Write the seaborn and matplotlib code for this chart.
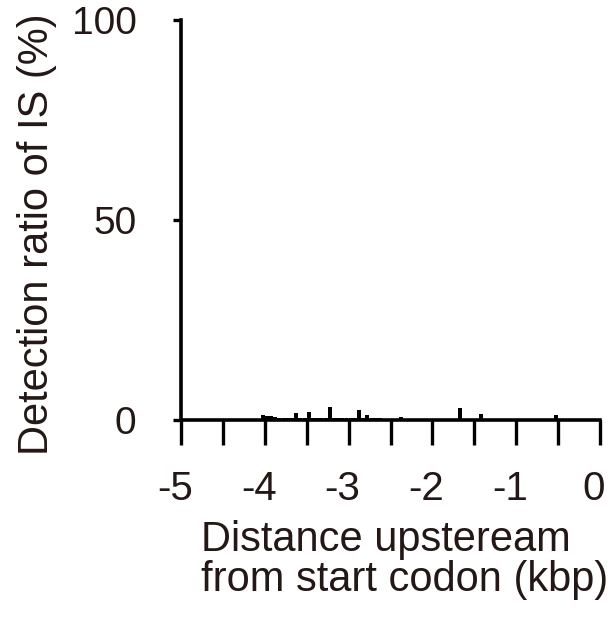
import numpy as np
import pandas as pd
import matplotlib
matplotlib.use("Agg")
import matplotlib.pyplot as plt
import matplotlib.transforms as mtransforms
import seaborn as sns

# Bin centres (kbp upstream of start codon), 50-bp bins
bin_width = 0.05
bin_centers = np.round(np.arange(-5 + bin_width / 2, 0, bin_width), 3)

# Detection ratio (%) per bin
detection = [
    0, 0, 0, 0, 0, 0, 0, 0.3, 0, 0,            # -5.0 .. -4.55
    0.3, 0.2, 0.2, 0.2, 0.3, 0.3, 0.3, 0.3, 0.3, 1.2,   # -4.5 .. -4.05
    1.1, 1.0, 0.7, 0.5, 0.4, 0.4, 0.4, 1.8, 0.4, 0.4,   # -4.0 .. -3.55
    2.0, 0.4, 0.4, 0.4, 0.4, 3.2, 0.4, 0.4, 0.4, 0.4,   # -3.5 .. -3.05
    0.4, 0.4, 2.5, 0.4, 1.2, 0.4, 0.4, 0.6, 0.3, 0.3,   # -3.0 .. -2.55
    0.3, 0.3, 0.8, 0.3, 0.3, 0.3, 0.3, 0.3, 0.3, 0.3,   # -2.5 .. -2.05
    0.3, 0.3, 0.3, 0.3, 0.3, 0.3, 3.0, 0.3, 0.3, 0.3,   # -2.0 .. -1.55
    0.3, 1.5, 0.3, 0.3, 0.3, 0.3, 0.3, 0.3, 0.3, 0.3,   # -1.5 .. -1.05
    0.3, 0.3, 0.3, 0.3, 0.3, 0.3, 0.3, 0.3, 0.3, 1.2,   # -1.0 .. -0.55
    0.3, 0.3, 0.3, 0.3, 0.3, 0.3, 0.3, 0.3, 0.3, 0.3,   # -0.5 .. -0.05
]

x_ticks = [-5, -4.5, -4, -3.5, -3, -2.5, -2, -1.5, -1, -0.5, 0]
x_ticklabels = ["-5", "", "-4", "", "-3", "", "-2", "", "-1", "", "0"]
y_ticks = [0, 50, 100]
y_ticklabels = ["0", "50", "100"]

x_label = "Distance upsteream\nfrom start codon (kbp)"
y_label = "Detection ratio of IS (%)"

df = pd.DataFrame({"pos": bin_centers, "ratio": detection})

sns.set_style("white")
plt.rcParams["font.family"] = ["Liberation Sans", "DejaVu Sans"]
text_color = "#231815"

fig = plt.figure(figsize=(6.13, 6.17), dpi=100)
ax = fig.add_axes([181 / 613, 197 / 617, 419 / 613, 400 / 617])

sns.histplot(data=df, x="pos", weights="ratio", binwidth=bin_width,
             binrange=(-5, 0), shrink=0.95, color="black", alpha=1,
             linewidth=0, element="bars", ax=ax)

ax.set_xlim(-5, 0)
ax.set_ylim(0, 100)
ax.set_xlabel("")
ax.set_ylabel("")

for s in ["top", "right"]:
    ax.spines[s].set_visible(False)
for s in ["left", "bottom"]:
    ax.spines[s].set_color("black")
    ax.spines[s].set_linewidth(2.6)
    ax.spines[s].set_zorder(5)

ax.set_xticks(x_ticks)
ax.set_xticklabels(x_ticklabels)
ax.set_yticks(y_ticks)
ax.set_yticklabels(y_ticklabels)
ax.tick_params(axis="x", direction="out", length=18, width=2.4, color="black",
               pad=18, labelsize=29, labelcolor=text_color, bottom=True)
ax.tick_params(axis="y", direction="out", length=6, width=2.4, color="black",
               pad=26, labelsize=28, labelcolor=text_color, left=True)

shift = mtransforms.ScaledTranslation(-6 / 100, 0, fig.dpi_scale_trans)
for lab in ax.get_xticklabels():
    lab.set_transform(lab.get_transform() + shift)

fig.text(201 / 613, 1 - 520 / 617, x_label, ha="left", va="top",
         multialignment="left", fontsize=30, color=text_color, linespacing=1.0)
fig.text(37 / 613, 1 - 234 / 617, y_label, ha="center", va="center",
         rotation=90, fontsize=30, color=text_color)

fig.savefig("out.png", dpi=100, facecolor="white")
